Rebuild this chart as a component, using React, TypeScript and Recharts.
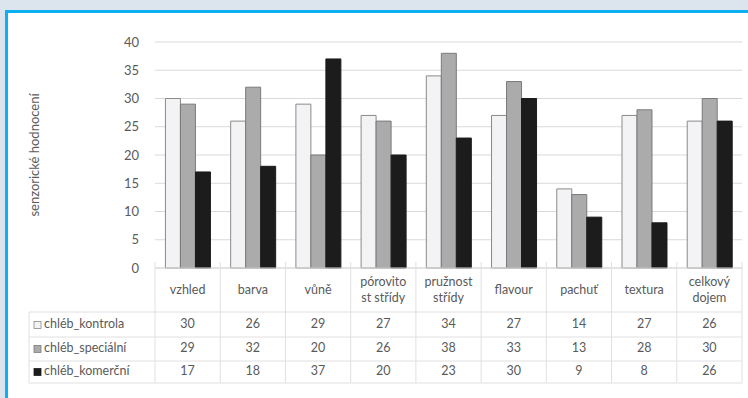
import React from 'react';
import { BarChart, Bar, XAxis, YAxis, CartesianGrid } from 'recharts';

const categories = [
  'vzhled',
  'barva',
  'vůně',
  'pórovito\nst střídy',
  'pružnost\nstřídy',
  'flavour',
  'pachuť',
  'textura',
  'celkový\ndojem',
];
const kontrola = [30, 26, 29, 27, 34, 27, 14, 27, 26];
const specialni = [29, 32, 20, 26, 38, 33, 13, 28, 30];
const komercni = [17, 18, 37, 20, 23, 30, 9, 8, 26];
const seriesNames = ['chléb_kontrola', 'chléb_speciální', 'chléb_komerční'];
const yTicks = [0, 5, 10, 15, 20, 25, 30, 35, 40];

const data = categories.map((c, i) => ({
  name: c,
  kontrola: kontrola[i],
  specialni: specialni[i],
  komercni: komercni[i],
}));

const W = 748;
const H = 398;
const LEFT = 155;
const RIGHT = 6;
const COL_W = (W - LEFT - RIGHT) / categories.length;
const LEG_W = 126;
const FONT = 'Lato, "Open Sans", sans-serif';
const TXT = '#5a5a5a';
const LINE = '#e0e0e0';
const FS = 12.5;

const fills = ['#f3f3f6', '#ababab', '#1c1c1c'];
const strokes = ['#8a8a8a', '#7a7a7a', '#1c1c1c'];
const rowsY = [44, 69, 93, 115];
const rowText = [57, 81, 104];

function TableTick(props: any) {
  const { x, y, payload, index } = props;
  const left = x - COL_W / 2;
  const right = x + COL_W / 2;
  const lines: string[] = String(payload.value).split('\n');
  const rows = [kontrola, specialni, komercni];
  return (
    <g>
      <line x1={left} x2={left} y1={y - 6} y2={y + 115} stroke={LINE} />
      {index === categories.length - 1 && (
        <line x1={right} x2={right} y1={y - 6} y2={y + 115} stroke={LINE} />
      )}
      {rowsY.map((ry) => (
        <line key={ry} x1={left} x2={right} y1={y + ry} y2={y + ry} stroke={LINE} />
      ))}
      {lines.length === 1 ? (
        <text x={x} y={y + 23} textAnchor="middle" dominantBaseline="middle" fontSize={FS} fill={TXT} fontFamily={FONT}>
          {lines[0]}
        </text>
      ) : (
        lines.map((l, k) => (
          <text key={k} x={x} y={y + 15 + k * 16} textAnchor="middle" dominantBaseline="middle" fontSize={FS} fill={TXT} fontFamily={FONT}>
            {l}
          </text>
        ))
      )}
      {rows.map((r, k) => (
        <text key={k} x={x} y={y + rowText[k]} textAnchor="middle" dominantBaseline="middle" fontSize={FS} fill={TXT} fontFamily={FONT}>
          {r[index]}
        </text>
      ))}
      {index === 0 && (
        <g>
          <line x1={left - LEG_W} x2={left - LEG_W} y1={y + 44} y2={y + 115} stroke={LINE} />
          {rowsY.map((ry) => (
            <line key={ry} x1={left - LEG_W} x2={left} y1={y + ry} y2={y + ry} stroke={LINE} />
          ))}
          {seriesNames.map((s, k) => (
            <g key={s}>
              <rect x={left - LEG_W + 5} y={y + rowText[k] - 3.5} width={7} height={7} fill={fills[k]} stroke={strokes[k]} strokeWidth={0.8} />
              <text x={left - LEG_W + 15} y={y + rowText[k]} dominantBaseline="middle" fontSize={FS} fill={TXT} fontFamily={FONT}>
                {s}
              </text>
            </g>
          ))}
        </g>
      )}
    </g>
  );
}

export default function App() {
  return (
    <div style={{ position: 'absolute', left: 0, top: 0, width: W, height: H, background: '#dce5ee', overflow: 'hidden' }}>
      <div
        style={{
          position: 'absolute',
          left: 5,
          top: 10,
          width: 800,
          height: 420,
          background: '#ffffff',
          borderLeft: '3px solid #0bb0f0',
          borderTop: '3px solid #0bb0f0',
        }}
      />
      <div style={{ position: 'absolute', left: 0, top: 0 }}>
        <BarChart
          width={W}
          height={H}
          data={data}
          margin={{ top: 42, right: RIGHT, left: 0, bottom: 15 }}
          barCategoryGap="16%"
          barGap={0}
        >
          <CartesianGrid vertical={false} stroke="#d9d9d9" />
          <XAxis
            dataKey="name"
            height={115}
            axisLine={{ stroke: '#d9d9d9' }}
            tickLine={false}
            tickSize={0}
            tickMargin={0}
            interval={0}
            tick={<TableTick />}
          />
          <YAxis
            width={LEFT}
            domain={[0, 40]}
            ticks={yTicks}
            axisLine={false}
            tickLine={false}
            tickMargin={10}
            tick={{ fill: TXT, fontSize: 13, fontFamily: FONT }}
            label={{
              value: 'senzorické hodnocení',
              angle: -90,
              position: 'insideLeft',
              offset: 34,
              style: { fill: TXT, fontSize: 13, fontFamily: FONT, textAnchor: 'middle' },
            }}
          />
          <Bar dataKey="kontrola" fill={fills[0]} stroke={strokes[0]} strokeWidth={1} isAnimationActive={false} />
          <Bar dataKey="specialni" fill={fills[1]} stroke={strokes[1]} strokeWidth={1} isAnimationActive={false} />
          <Bar dataKey="komercni" fill={fills[2]} stroke={strokes[2]} strokeWidth={1} isAnimationActive={false} />
        </BarChart>
      </div>
    </div>
  );
}
